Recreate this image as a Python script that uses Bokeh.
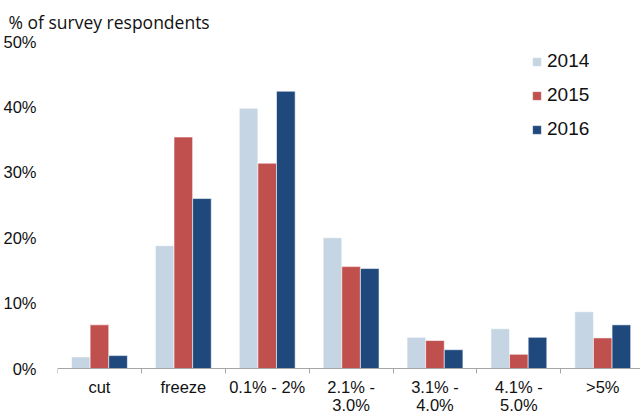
import numpy as np
from bokeh.plotting import figure
from bokeh.models import FixedTicker, Title, Legend, LegendItem
from bokeh.embed import file_html
from bokeh.resources import INLINE

categories = ["cut", "freeze", "0.1% - 2%", "2.1% -\n3.0%", "3.1% -\n4.0%", "4.1% -\n5.0%", ">5%"]
years = ["2014", "2015", "2016"]
v2014 = [1.8, 18.8, 39.8, 20.0, 4.8, 6.1, 8.7]
v2015 = [6.7, 35.4, 31.4, 15.6, 4.3, 2.2, 4.7]
v2016 = [2.0, 26.0, 42.4, 15.3, 2.9, 4.8, 6.7]
colors = ["#C6D5E3", "#C0504D", "#1F497D"]
y_ticks = [0, 10, 20, 30, 40, 50]

FONT = "Liberation Sans"

# frame runs to the bottom edge; the x axis is pinned at y = 0
p = figure(width=640, height=414, output_backend="svg", toolbar_location=None,
           x_range=(-0.5, 6.45), y_range=(-7.0, 50),
           min_border_left=57, min_border_right=0, min_border_top=40, min_border_bottom=0)
p.outline_line_color = None
p.xgrid.grid_line_color = None
p.ygrid.grid_line_color = None

idx = np.arange(len(categories))
w = 0.222
renderers = []
for k, (vals, col) in enumerate(zip([v2014, v2015, v2016], colors)):
    r = p.vbar(x=idx + (k - 1) * w, top=vals, width=w, bottom=0,
               fill_color=col, line_color="white", line_width=0.8, line_alpha=0.7)
    renderers.append(r)

legend = Legend(items=[LegendItem(label=y, renderers=[r]) for y, r in zip(years, renderers)],
                location=(474, 274), orientation="vertical")
legend.background_fill_alpha = 0
legend.border_line_color = None
legend.padding = 0
legend.margin = 0
legend.spacing = 12
legend.glyph_width = 11
legend.glyph_height = 11
legend.label_standoff = 5
legend.label_text_font = FONT
legend.label_text_font_size = "19px"
legend.label_text_color = "#111111"
legend.label_height = 22
p.add_layout(legend)

# x axis: labels at category centres, tick marks at category boundaries
p.xaxis.fixed_location = 0
p.xaxis.ticker = FixedTicker(ticks=list(idx), minor_ticks=list(idx - 0.5) + [6.5])
p.xaxis.major_label_overrides = {int(i): c for i, c in zip(idx, categories)}
p.xaxis.major_tick_out = 0
p.xaxis.major_tick_in = 0
p.xaxis.minor_tick_out = 5
p.xaxis.minor_tick_in = 0
p.xaxis.minor_tick_line_color = "#A6A6A6"
p.xaxis.axis_line_color = "#A6A6A6"
p.xaxis.major_label_standoff = 4
p.xaxis.major_label_text_font = FONT
p.xaxis.major_label_text_font_size = "16.5px"
p.xaxis.major_label_text_line_height = 1.0
p.xaxis.major_label_text_color = "#111111"

# y axis
p.yaxis.ticker = FixedTicker(ticks=y_ticks)
p.yaxis.major_label_overrides = {t: f"{t}%" for t in y_ticks}
p.yaxis.axis_line_color = None
p.yaxis.major_tick_line_color = None
p.yaxis.minor_tick_line_color = None
p.yaxis.major_label_standoff = 15
p.yaxis.major_label_text_font = FONT
p.yaxis.major_label_text_font_size = "16.5px"
p.yaxis.major_label_text_color = "#111111"

p.title = Title(text="% of survey respondents", align="left", offset=-49,
                text_font="Open Sans", text_font_size="17.5px", text_font_style="normal",
                text_color="#111111", standoff=15)

open("out.html", "w").write(file_html(p, INLINE))
